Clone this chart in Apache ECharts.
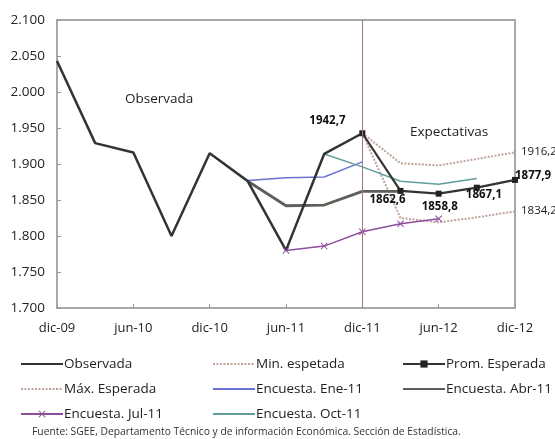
<!DOCTYPE html>
<html>
<head>
<meta charset="utf-8">
<script src="https://cdn.jsdelivr.net/npm/echarts@6/dist/echarts.min.js"></script>
<style>html,body{margin:0;padding:0;background:#fff}#c{width:555px;height:439px}</style>
</head>
<body>
<div id="c"></div>
<script>
const categories = ['dic-09','mar-10','jun-10','sep-10','dic-10','mar-11','jun-11','sep-11','dic-11','mar-12','jun-12','sep-12','dic-12'];
const observada = [2043,1929,1916,1800,1915,1876,1780,1914,1942.7,null,null,null,null];
const minEsperada = [null,null,null,null,null,null,null,null,1942.7,1825,1819,1826,1834.2];
const maxEsperada = [null,null,null,null,null,null,null,null,1942.7,1901,1898,1907,1916.2];
const promEsperada = [null,null,null,null,null,null,null,null,1942.7,1862.6,1858.8,1867.1,1877.9];
const encEne11 = [null,null,null,null,1915,1877,1881,1882,1903,null,null,null,null];
const encAbr11 = [null,null,null,null,null,1876,1842,1843,1862,1862,null,null,null];
const encJul11 = [null,null,null,null,null,null,1780,1786,1806,1817,1824,null,null];
const encOct11 = [null,null,null,null,null,null,null,1914,1896,1876,1872,1880,null];
const yTicks = {min:1700, max:2100, interval:50};
const font = '"Open Sans", "Noto Sans", sans-serif';

const fmt = v => v.toFixed(1).replace('.', ',');
const thousands = v => { const s = String(Math.round(v)); return s.length > 3 ? s.slice(0, s.length-3) + '.' + s.slice(-3) : s; };

const promLabels = {
  8: {position:[-50,-16]},
  9: {position:[-28,6]},
  10: {position:[-14,10]},
  11: {position:[-8,4]},
  12: {position:[3,-7]}
};
const promData = promEsperada.map((v,i) => {
  if (v == null) return null;
  const l = promLabels[i];
  return {value:v, label:{show:true, position:l.position, formatter:p=>fmt(p.value), fontWeight:'bold', fontSize:11.5, color:'#111', fontFamily:font}};
});
const endLabel = (arr) => arr.map((v,i) => (i === arr.length-1 && v != null) ?
  {value:v, label:{show:true, position:[6,-7], formatter:p=>fmt(p.value), fontSize:11.5, color:'#222', fontFamily:font}} : v);

const xSym = 'path://M0,1L1,0L5,4L9,0L10,1L6,5L10,9L9,10L5,6L1,10L0,9L4,5Z';
const dotted = '#bfa29a';
const noSym = name => ({name:name, itemStyle:{opacity:0}});
const legendText = {fontSize:13.5, color:'#222', fontFamily:font, padding:[0,0,0,-4]};

const chart = echarts.init(document.getElementById('c'), null, {renderer:'canvas'});
chart.setOption({
  animation:false,
  textStyle:{fontFamily:font},
  grid:{left:57, right:40, top:20, bottom:131, show:true, borderColor:'#a8a8a8', borderWidth:2},
  xAxis:{
    type:'category', data:categories, boundaryGap:false,
    axisLine:{lineStyle:{color:'#a8a8a8', width:2}},
    axisTick:{show:true, inside:true, length:4, interval:1, lineStyle:{color:'#999'}},
    axisLabel:{interval:1, color:'#222', fontSize:13, margin:14, fontFamily:font}
  },
  yAxis:{
    type:'value', min:yTicks.min, max:yTicks.max, interval:yTicks.interval,
    splitLine:{show:false},
    axisLine:{show:true, lineStyle:{color:'#a8a8a8', width:2}},
    axisTick:{show:true, inside:true, length:4, lineStyle:{color:'#999'}},
    axisLabel:{color:'#222', fontSize:13.5, margin:12, fontFamily:font, formatter:v=>thousands(v)}
  },
  legend:[
    {orient:'vertical', left:15, top:352, itemWidth:42, itemHeight:9, itemGap:11, textStyle:legendText,
     data:[noSym('Observada'), noSym('Máx. Esperada'), 'Encuesta. Jul-11']},
    {orient:'vertical', left:207, top:352, itemWidth:42, itemHeight:9, itemGap:11, textStyle:legendText,
     data:[noSym('Min. espetada'), noSym('Encuesta. Ene-11'), noSym('Encuesta. Oct-11')]},
    {orient:'vertical', left:397, top:352, itemWidth:42, itemHeight:9, itemGap:11, textStyle:legendText,
     data:['Prom. Esperada', noSym('Encuesta. Abr-11')]}
  ],
  graphic:[
    {type:'text', left:125, top:92, style:{text:'Observada', fontSize:13.5, fill:'#222', fontFamily:font}},
    {type:'text', left:410, top:125, style:{text:'Expectativas', fontSize:13.5, fill:'#222', fontFamily:font}},
    {type:'text', left:32, top:427, style:{text:'Fuente: SGEE, Departamento Técnico y de información Económica. Sección de Estadística.', fontSize:10.3, fill:'#333', fontFamily:font}}
  ],
  series:[
    {name:'Min. espetada', type:'line', data:endLabel(minEsperada), symbol:'circle', symbolSize:0, showSymbol:true, lineStyle:{color:dotted, width:2, type:[2,1.5]}, itemStyle:{color:dotted}},
    {name:'Máx. Esperada', type:'line', data:endLabel(maxEsperada), symbol:'circle', symbolSize:0, showSymbol:true, lineStyle:{color:dotted, width:2, type:[2,1.5]}, itemStyle:{color:dotted}},
    {name:'Encuesta. Ene-11', type:'line', data:encEne11, symbol:'none', lineStyle:{color:'#6a72d2', width:1.5}, itemStyle:{color:'#6a72d2'}},
    {name:'Encuesta. Abr-11', type:'line', data:encAbr11, symbol:'none', lineStyle:{color:'#5c6058', width:2.8}, itemStyle:{color:'#5c6058'}},
    {name:'Encuesta. Jul-11', type:'line', data:encJul11, symbol:xSym, symbolSize:7, lineStyle:{color:'#8e4e9c', width:1.5}, itemStyle:{color:'#8e4e9c'}},
    {name:'Encuesta. Oct-11', type:'line', data:encOct11, symbol:'none', lineStyle:{color:'#5f9e9a', width:1.5}, itemStyle:{color:'#5f9e9a'}},
    {name:'Observada', type:'line', data:observada, symbol:'none', lineStyle:{color:'#333', width:2.5}, itemStyle:{color:'#333'},
     markLine:{silent:true, symbol:'none', label:{show:false}, lineStyle:{color:'#a27584', width:1, type:'solid'}, data:[{xAxis:'dic-11'}]}},
    {name:'Prom. Esperada', type:'line', data:promData, symbol:'rect', symbolSize:6, lineStyle:{color:'#333', width:2.2}, itemStyle:{color:'#222'}}
  ]
});
</script>
</body>
</html>
